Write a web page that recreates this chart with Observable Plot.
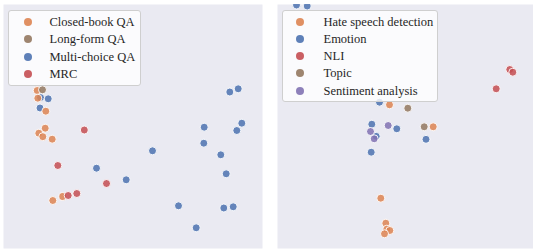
<!DOCTYPE html>
<html>
<head>
<meta charset="utf-8">
<script src="https://cdn.jsdelivr.net/npm/d3@7"></script>
<script src="https://cdn.jsdelivr.net/npm/@observablehq/plot@0.6"></script>
<style>
  html, body { margin: 0; padding: 0; background: #fff; }
  #wrap { position: relative; width: 533px; height: 250px; overflow: hidden; }
  .panel { position: absolute; top: 0; }
  .legend { position: absolute; background: rgba(255,255,255,0.8); border: 1px solid #cfcfcf; border-radius: 3px; box-sizing: border-box; }
  .row { position: absolute; left: 0; font-family: "Liberation Serif", "Times New Roman", serif; font-size: 12.5px; color: #262626; white-space: nowrap; }
  .mk { position: absolute; width: 8px; height: 8px; border-radius: 50%; transform: translate(-50%, -50%); opacity: 0.9; }
  .lb { position: absolute; transform: translateY(-52%); line-height: 1; }
</style>
</head>
<body>
<div id="wrap"></div>
<script>
// ---- Left panel: QA / MRC tasks (panel pixel units) ----
const leftCategories = ["Closed-book QA", "Long-form QA", "Multi-choice QA", "MRC"];
const leftColors = ["#dd8452", "#937860", "#4c72b0", "#c44e52"];
const multiChoiceQA = [[40,97],[47.7,98.3],[39.5,107.5],[229.3,91.5],[237.7,88.3],[241.3,122.7],[236.3,130],[203.7,126.7],[203.3,142.7],[220.3,154.3],[225.7,173.3],[152,150.3],[96,167.7],[125.7,179.3],[178,205.3],[223.3,207.5],[232.7,206.3],[195.7,227.3]];
const closedBookQA = [[36.7,90],[37.3,97.7],[45.3,110.7],[44.7,127.7],[38.3,132.7],[42.3,136.2],[51.7,138.7],[62.3,196],[52.3,200]];
const longFormQA = [[42,89.3]];
const mrc = [[83.8,129.5],[57.3,165],[106,183],[76.3,193],[67.7,195]];

// ---- Right panel: classification tasks ----
const rightCategories = ["Hate speech detection", "Emotion", "NLI", "Topic", "Sentiment analysis"];
const rightColors = ["#dd8452", "#4c72b0", "#c44e52", "#937860", "#8172b3"];
const emotion = [[296,4.5],[306.7,5.5],[379,101.7],[371.3,123.7],[396.3,128.3],[375.7,135.8],[425.5,138.8],[370.7,151.7]];
const hateSpeech = [[389,104.3],[432.7,126.3],[380.3,197.7],[385.3,222.7],[386.3,228.7],[389.3,230],[384,233.3]];
const topic = [[407.3,107.7],[423.7,126.3]];
const sentiment = [[387.7,125],[370,131],[373.7,138.3]];
const nli = [[509.3,69],[512.3,71.7],[495.7,88.3]];

const toRows = (pts, cat) => pts.map(([x, y]) => ({x, y, cat}));

const leftData = [
  ...toRows(multiChoiceQA, "Multi-choice QA"),
  ...toRows(closedBookQA, "Closed-book QA"),
  ...toRows(longFormQA, "Long-form QA"),
  ...toRows(mrc, "MRC")
];
const rightData = [
  ...toRows(emotion, "Emotion"),
  ...toRows(hateSpeech, "Hate speech detection"),
  ...toRows(topic, "Topic"),
  ...toRows(sentiment, "Sentiment analysis"),
  ...toRows(nli, "NLI")
];

function panel(data, cats, colors, opts) {
  return Plot.plot({
    width: opts.width, height: 250,
    marginLeft: opts.ml, marginRight: opts.mr, marginTop: 4, marginBottom: 2,
    x: {domain: opts.xd, axis: null},
    y: {domain: [248, 4], axis: null},
    color: {domain: cats, range: colors},
    style: {background: "transparent", overflow: "hidden"},
    marks: [
      Plot.frame({fill: "#eaeaf2", stroke: null}),
      Plot.dot(data, {x: "x", y: "y", fill: "cat", r: 4, stroke: "white", strokeWidth: 0.9, fillOpacity: 0.85, clip: "frame"})
    ]
  });
}

const wrap = document.getElementById("wrap");

const p1 = panel(leftData, leftCategories, leftColors, {width: 265, ml: 3, mr: 3, xd: [3, 262]});
p1.classList.add("panel"); p1.style.left = "0px";
wrap.appendChild(p1);

const p2 = panel(rightData, rightCategories, rightColors, {width: 263, ml: 7, mr: 0, xd: [277, 533]});
p2.classList.add("panel"); p2.style.left = "270px";
wrap.appendChild(p2);

function legend(cats, colors, box) {
  const lg = document.createElement("div");
  lg.className = "legend";
  Object.assign(lg.style, {left: box.left + "px", top: box.top + "px", width: box.w + "px", height: box.h + "px"});
  cats.forEach((c, i) => {
    const cy = box.first + i * box.step;
    const mk = document.createElement("div");
    mk.className = "mk";
    Object.assign(mk.style, {left: box.mx + "px", top: cy + "px", background: colors[i]});
    const lb = document.createElement("div");
    lb.className = "row lb";
    lb.textContent = c;
    Object.assign(lb.style, {left: box.tx + "px", top: cy + "px"});
    lg.appendChild(mk);
    lg.appendChild(lb);
  });
  wrap.appendChild(lg);
}

legend(leftCategories, leftColors, {left: 8, top: 10, w: 133, h: 76, first: 10.5, step: 17.5, mx: 18.5, tx: 40.5});
legend(rightCategories, rightColors, {left: 282, top: 10, w: 156, h: 92, first: 10.5, step: 17.3, mx: 17.3, tx: 40.5});
</script>
</body>
</html>
